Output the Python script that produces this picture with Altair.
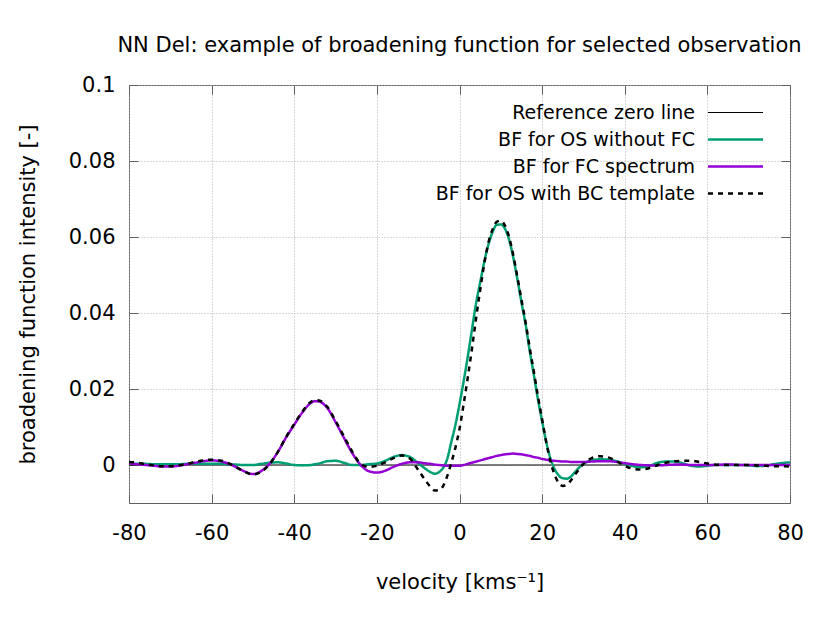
import altair as alt
import pandas as pd

velocity = [-80, -78, -76, -74, -72, -70, -68, -66, -64, -62, -60, -58, -56, -54, -52, -50, -48, -46, -44, -42, -40, -38, -36,
            -35,
            -34, -32, -30, -28, -26, -24, -22, -20, -18, -16, -14, -12, -10, -8,
            -7, -6, -5, -4, -3, -2, -1, 0, 1, 2, 3, 4, 5, 6, 7, 8, 9, 10, 11, 12, 13, 14, 15, 16, 17, 18, 19, 20,
            21, 22, 23, 24, 25, 26, 27, 28, 29, 30,
            32, 34, 36, 38, 40, 42, 44, 46, 48, 50, 52, 54, 56, 58, 60, 62, 64, 66, 68, 70, 72, 74, 76, 78, 80]

bf_os_without_fc = [0.0003, 0.0003, 0.0003, 0.0002, 0.0002, 0.0002, 0.0002, 0.0003, 0.0003, 0.0003, 0.0003, 0.0003, 0.0002,
                    0.0001, 0.0000, 0.0000, 0.0003, 0.0006, 0.0007, 0.0004, 0.0000, -0.0001, 0.0000,
                    0.0002,
                    0.0004, 0.0010, 0.0011, 0.0006, 0.0000, 0.0000, 0.0002, 0.0004, 0.0011, 0.0021, 0.0026, 0.0021, 0.0005, -0.0012,
                    -0.0019, -0.0023, -0.0019, -0.0008, 0.0015, 0.0060, 0.0105, 0.0160, 0.0220, 0.0285, 0.0355, 0.0425,
                    0.0480, 0.0535, 0.0580, 0.0613, 0.0632, 0.0633, 0.0622, 0.0593, 0.0547, 0.0490, 0.0428, 0.0370,
                    0.0300, 0.0237, 0.0172, 0.0115, 0.0060, 0.0018, -0.0010, -0.0027, -0.0035, -0.0036, -0.0030, -0.0018,
                    -0.0006, 0.0003,
                    0.0012, 0.0015, 0.0014, 0.0010, 0.0003, -0.0003, -0.0006, -0.0002, 0.0006, 0.0009, 0.0009, 0.0005,
                    -0.0002, -0.0004, -0.0002, 0.0000, 0.0000, 0.0000, 0.0000, -0.0001, -0.0003, -0.0002, 0.0002, 0.0005, 0.0007]

bf_fc_spectrum = [0.0004, 0.0002, 0.0000, -0.0002, -0.0004, -0.0004, -0.0002, 0.0002, 0.0006, 0.0010, 0.0012, 0.0010, 0.0004,
                  -0.0006, -0.0017, -0.0024, -0.0016, 0.0003, 0.0034, 0.0072, 0.0106, 0.0139, 0.0163,
                  0.0168,
                  0.0167, 0.0150, 0.0113, 0.0072, 0.0032, 0.0001, -0.0016, -0.0020, -0.0015, -0.0005, 0.0003, 0.0007, 0.0007, 0.0004,
                  0.0003, 0.0001, 0.0000, -0.0001, -0.0002, -0.0002, -0.0002, -0.0002, 0.0000, 0.0003, 0.0006, 0.0009,
                  0.0012, 0.0015, 0.0018, 0.0021, 0.0024, 0.0026, 0.0028, 0.0029, 0.0030, 0.0029, 0.0028, 0.0026,
                  0.0024, 0.0021, 0.0019, 0.0016, 0.0014, 0.0012, 0.0011, 0.0010, 0.0009, 0.0009, 0.0008, 0.0008,
                  0.0008, 0.0008,
                  0.0009, 0.0010, 0.0010, 0.0008, 0.0005, 0.0002, 0.0000, -0.0001, -0.0001, 0.0000, 0.0001, 0.0001,
                  0.0000, 0.0000, 0.0000, 0.0000, 0.0001, 0.0001, 0.0000, 0.0000, 0.0000, 0.0000, 0.0000, 0.0000, 0.0000]

bf_os_bc_template = [0.0008, 0.0006, 0.0002, -0.0001, -0.0003, -0.0003, -0.0001, 0.0003, 0.0008, 0.0012, 0.0014, 0.0012, 0.0005,
                     -0.0006, -0.0018, -0.0025, -0.0018, 0.0002, 0.0034, 0.0073, 0.0108, 0.0141, 0.0166,
                     0.0171,
                     0.0170, 0.0153, 0.0116, 0.0076, 0.0036, 0.0004, -0.0005, -0.0002, 0.0007, 0.0018, 0.0025, 0.0017, -0.0013, -0.0044,
                     -0.0058, -0.0067, -0.0066, -0.0056, -0.0030, 0.0005, 0.0045, 0.0095, 0.0160, 0.0230, 0.0305, 0.0385,
                     0.0460, 0.0530, 0.0585, 0.0620, 0.0640, 0.0643, 0.0630, 0.0600, 0.0553, 0.0495, 0.0435, 0.0375,
                     0.0308, 0.0245, 0.0180, 0.0120, 0.0060, 0.0010, -0.0025, -0.0047, -0.0055, -0.0052, -0.0040, -0.0025,
                     -0.0010, 0.0003,
                     0.0018, 0.0023, 0.0020, 0.0010, -0.0002, -0.0010, -0.0012, -0.0008, 0.0000, 0.0006, 0.0010, 0.0011,
                     0.0011, 0.0008, 0.0004, 0.0001, 0.0000, 0.0000, 0.0000, 0.0000, -0.0001, -0.0002, -0.0003, -0.0003, -0.0004]

zero_velocity = [-80, 80]
zero_value = [0.0, 0.0]

series_names = ["Reference zero line", "BF for OS without FC", "BF for FC spectrum", "BF for OS with BC template"]
series_colors = ["#000000", "#009e73", "#9400d3", "#000000"]
series_dash = [[1, 0], [1, 0], [1, 0], [5, 5]]
series_width = [1, 2.5, 2.5, 2.5]

x_ticks = [-80, -60, -40, -20, 0, 20, 40, 60, 80]
y_ticks = [0, 0.02, 0.04, 0.06, 0.08, 0.1]

rows = []
for v, y in zip(zero_velocity, zero_value):
    rows.append({"velocity": v, "value": y, "series": series_names[0]})
for name, vals in zip(series_names[1:], [bf_os_without_fc, bf_fc_spectrum, bf_os_bc_template]):
    for v, y in zip(velocity, vals):
        rows.append({"velocity": v, "value": y, "series": name})
df = pd.DataFrame(rows)

FONT = "DejaVu Sans"
TICK = 9
TICK_COLOR = "#606060"

x_scale = alt.Scale(domain=[-80, 80], nice=False, zero=False)
y_scale = alt.Scale(domain=[-0.01, 0.1], nice=False, zero=False)

x_main = alt.X("velocity:Q", scale=x_scale,
               axis=alt.Axis(values=x_ticks, orient="bottom", title="velocity [kms\u207b\u00b9]",
                             labelExpr="datum.value + ''",
                             titlePadding=28, labelPadding=19, labelFlush=False,
                             ticks=True, tickSize=TICK, offset=-TICK, tickColor=TICK_COLOR, grid=True))
y_main = alt.Y("value:Q", scale=y_scale,
               axis=alt.Axis(values=y_ticks, orient="left", title="broadening function intensity [-]",
                             labelExpr="datum.value + ''", titlePadding=30, labelPadding=14, labelFlush=False,
                             ticks=True, tickSize=TICK, offset=-TICK, tickColor=TICK_COLOR, grid=True))
x_mirror = alt.X("velocity:Q", scale=x_scale,
                 axis=alt.Axis(values=x_ticks, orient="top", title=None, labels=False, grid=False,
                               ticks=True, tickSize=TICK, offset=-TICK, tickColor=TICK_COLOR))
y_mirror = alt.Y("value:Q", scale=y_scale,
                 axis=alt.Axis(values=y_ticks, orient="right", title=None, labels=False, grid=False,
                               ticks=True, tickSize=TICK, offset=-TICK, tickColor=TICK_COLOR))

legend = alt.Legend(title=None, orient="none", legendX=597, legendY=18,
                    symbolType="M-5.5,0H5.5", symbolSize=100, labelAlign="right", labelOffset={"expr": "-50"},
                    labelFontSize=19, labelFont=FONT, labelColor="black", rowPadding=7, padding=0,
                    labelLimit=400)

color_enc = alt.Color("series:N", scale=alt.Scale(domain=series_names, range=series_colors), legend=legend)
dash_enc = alt.StrokeDash("series:N", scale=alt.Scale(domain=series_names, range=series_dash), legend=legend)
width_enc = alt.StrokeWidth("series:N", scale=alt.Scale(type="ordinal", domain=series_names, range=series_width),
                            legend=legend)

base = alt.Chart(df)


def series_line(name, xe, ye):
    return (base.transform_filter(alt.datum.series == name)
            .mark_line(interpolate="monotone", clip=True)
            .encode(x=xe, y=ye, color=color_enc, strokeDash=dash_enc, strokeWidth=width_enc))


zero_layer = series_line(series_names[0], x_mirror, y_mirror)
curves = alt.layer(*[series_line(n, x_main, y_main) for n in series_names[1:]])

chart = alt.layer(zero_layer, curves).resolve_axis(x="independent", y="independent").properties(
    width=661, height=418,
    title=alt.TitleParams("NN Del: example of broadening function for selected observation",
                          fontSize=21, font=FONT, fontWeight="normal", anchor="middle", offset=18, color="black"),
    padding={"left": 121, "top": 77, "right": 20, "bottom": 95},
    autosize=alt.AutoSizeParams(type="none"),
).configure_view(
    stroke="#606060", strokeWidth=1
).configure_axis(
    labelFont=FONT, titleFont=FONT, labelFontSize=21, titleFontSize=21, titleFontWeight="normal",
    labelColor="black", titleColor="black", domain=False,
    gridColor="#b0b0b0", gridDash=[1, 2], gridWidth=1, gridOpacity=1
)

chart.save("out.html", embed_options={"renderer": "svg", "actions": False})
